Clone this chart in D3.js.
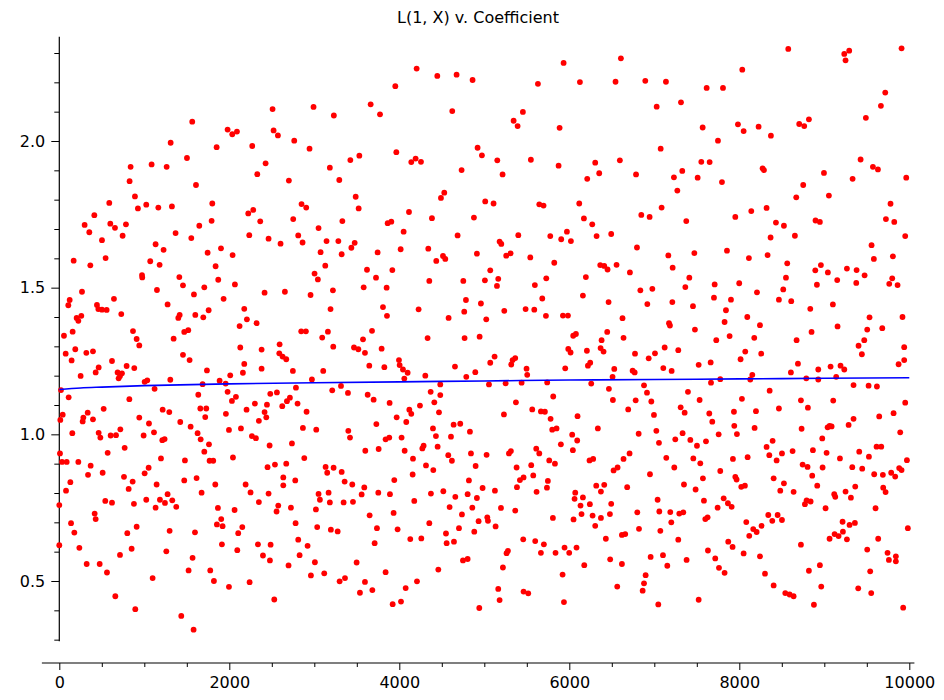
<!DOCTYPE html>
<html>
<head>
<meta charset="utf-8">
<script src="https://cdn.jsdelivr.net/npm/d3@7"></script>
<style>
  body { margin: 0; background: #fff; }
  text { font-family: "DejaVu Sans", sans-serif; }
</style>
</head>
<body>
<div id="chart"></div>
<script>
// L(1, X) value against coefficient
var points = [
  [2509,2.109],[2991,2.116],[3230,2.087],[1564,2.066],[1980,2.039],[2035,2.023],[2090,2.032],[2521,2.036],
  [2572,2.019],[1310,1.994],[1851,1.979],[2270,1.983],[2764,2.001],[2944,1.974],[1502,1.942],[839,1.912],
  [1086,1.920],[1263,1.912],[2427,1.924],[2329,1.887],[3183,1.909],[827,1.863],[1608,1.850],[2701,1.865],
  [4204,2.247],[4447,2.222],[4674,2.226],[4862,2.208],[3953,2.187],[5933,2.266],[6607,2.282],[5631,2.195],
  [6125,2.201],[6544,2.202],[3663,2.125],[3773,2.091],[4623,2.102],[5454,2.099],[5345,2.069],[5392,2.051],
  [5886,2.045],[4921,1.977],[4972,1.951],[3424,1.935],[3530,1.950],[3965,1.962],[4141,1.928],[4192,1.940],
  [4255,1.929],[5153,1.934],[4733,1.901],[5215,1.886],[5548,1.936],[5874,1.916],[6305,1.926],[6211,1.871],
  [6352,1.890],[6595,1.934],[3294,1.867],
  [8576,2.314],[9235,2.297],[9293,2.308],[9250,2.275],[9909,2.316],[8035,2.243],[6894,2.205],[7137,2.202],
  [7616,2.181],[7808,2.181],[7028,2.117],[7314,2.132],[9717,2.165],[9666,2.120],[9489,2.079],[7569,2.046],
  [7984,2.057],[8051,2.034],[8227,2.049],[8372,2.018],[7749,2.001],[8705,2.058],[8764,2.051],[8819,2.074],
  [7075,1.974],[7553,1.929],[7651,1.928],[9427,1.937],[9572,1.912],[9631,1.903],[6785,1.886],[7231,1.876],
  [7329,1.898],[7510,1.875],[7796,1.860],[8274,1.907],[8290,1.901],[8996,1.891],[9333,1.871],[9964,1.875],
  [8752,1.850],
  [588,1.789],[890,1.811],[925,1.770],[1023,1.783],[1165,1.773],[1325,1.777],[1800,1.787],[412,1.747],
  [298,1.714],[353,1.689],[600,1.718],[655,1.704],[784,1.716],[745,1.677],[502,1.662],[1368,1.686],
  [1553,1.669],[1647,1.711],[1792,1.728],[2223,1.753],[2282,1.765],[2364,1.726],[2235,1.679],[2462,1.667],
  [2603,1.650],[2752,1.734],[2850,1.785],[2905,1.773],[2811,1.678],[2862,1.654],[3050,1.703],[3144,1.659],
  [3074,1.621],[3129,1.575],[3003,1.548],[3042,1.528],[3219,1.491],[2956,1.475],[3191,1.427],[2846,1.351],
  [2901,1.351],[3160,1.350],[3093,1.330],[169,1.592],[365,1.576],[545,1.601],[1133,1.648],[1227,1.629],
  [1070,1.590],[1180,1.578],[973,1.543],[976,1.535],[1149,1.492],[1412,1.536],[1455,1.508],[1745,1.619],
  [1902,1.634],[1839,1.573],[2039,1.611],[1870,1.527],[2066,1.511],[1706,1.501],[1584,1.477],[1933,1.462],
  [2415,1.483],[2654,1.486],[267,1.486],[122,1.458],[106,1.440],[643,1.462],[443,1.441],[459,1.427],
  [502,1.425],[557,1.424],[729,1.410],[204,1.397],[259,1.404],[224,1.387],[1274,1.443],[1416,1.407],
  [1400,1.397],[1600,1.407],[1694,1.399],[1757,1.423],[2176,1.428],[2207,1.392],[2321,1.379],[2121,1.369],
  [55,1.336],[157,1.350],[867,1.352],[910,1.325],[1345,1.326],[1470,1.349],[1517,1.355],
  [3487,1.810],[3522,1.770],[4529,1.824],[4490,1.806],[5011,1.794],[5109,1.787],[5647,1.784],[5697,1.780],
  [6117,1.787],[3330,1.727],[3863,1.720],[3906,1.725],[4114,1.758],[4384,1.737],[4878,1.739],[6172,1.736],
  [6270,1.716],[4051,1.691],[3283,1.659],[3475,1.653],[3436,1.636],[3322,1.614],[3745,1.620],[4016,1.631],
  [4341,1.633],[4435,1.591],[4514,1.608],[4541,1.598],[4686,1.678],[4913,1.616],[5180,1.657],[5200,1.649],
  [5258,1.609],[5309,1.617],[5400,1.679],[5541,1.603],[5776,1.676],[5905,1.665],[5972,1.691],[6019,1.659],
  [6321,1.676],[6493,1.683],[5823,1.585],[6364,1.577],[6411,1.574],[6450,1.562],[6556,1.578],[3620,1.561],
  [3918,1.560],[3726,1.534],[3581,1.501],[3851,1.500],[4353,1.523],[4753,1.523],[5007,1.525],[5070,1.559],
  [5164,1.530],[5149,1.506],[5595,1.509],[5729,1.532],[6195,1.536],[6713,1.552],[4784,1.458],[4960,1.446],
  [5682,1.463],[6160,1.473],[6462,1.451],[3808,1.434],[3855,1.404],[4227,1.426],[4580,1.397],[4764,1.418],
  [5023,1.392],[5235,1.421],[5486,1.427],[5588,1.425],[5725,1.404],[5925,1.405],[5984,1.405],[6626,1.396],
  [3679,1.353],[6446,1.349],[6046,1.336],[6078,1.342],[3573,1.324],[4333,1.328],[4768,1.328],[4945,1.333],
  [6380,1.321],[6638,1.329],
  [7271,1.831],[8670,1.808],[9054,1.814],[9779,1.786],[6847,1.748],[6945,1.741],[7086,1.773],[7376,1.727],
  [7953,1.741],[8141,1.761],[8321,1.772],[8431,1.722],[8525,1.711],[8368,1.671],[8654,1.677],[8897,1.729],
  [8948,1.724],[9725,1.734],[9823,1.724],[9952,1.676],[9556,1.645],[9583,1.598],[9807,1.607],[6796,1.637],
  [7165,1.610],[7471,1.618],[7216,1.568],[7855,1.626],[8113,1.601],[8333,1.611],[8564,1.583],[8894,1.559],
  [8960,1.577],[9042,1.552],[9266,1.565],[9380,1.560],[9474,1.542],[9152,1.526],[9376,1.516],[8913,1.510],
  [9799,1.532],[9764,1.513],[9862,1.509],[7412,1.534],[7365,1.502],[6836,1.491],[6977,1.496],[7710,1.511],
  [7999,1.515],[7702,1.466],[7902,1.459],[8208,1.484],[8549,1.534],[8517,1.494],[8466,1.459],[8611,1.454],
  [6918,1.444],[7212,1.451],[7455,1.437],[7843,1.423],[8094,1.400],[8243,1.372],[7827,1.383],[7173,1.379],
  [7184,1.371],[7478,1.357],[7886,1.335],[8176,1.329],[8835,1.428],[9101,1.443],[9532,1.399],[9920,1.400],
  [9156,1.368],[8850,1.349],[9505,1.357],[9682,1.362],[7729,1.321],[8674,1.321],[9470,1.321],
  [941,1.303],[75,1.275],[145,1.252],[188,1.290],[318,1.278],[396,1.283],[251,1.199],[428,1.211],
  [463,1.228],[620,1.250],[686,1.211],[714,1.199],[737,1.208],[698,1.191],[792,1.233],[882,1.226],
  [1004,1.179],[1035,1.184],[1121,1.155],[1306,1.186],[1455,1.271],[1533,1.253],[1737,1.218],[1686,1.171],
  [1886,1.183],[1957,1.173],[2011,1.201],[2129,1.296],[2176,1.240],[2160,1.210],[2380,1.289],[2380,1.224],
  [2592,1.307],[2588,1.276],[2627,1.265],[2670,1.256],[2748,1.216],[3223,1.299],[3105,1.216],[2972,1.187],
  [3211,1.150],[2784,1.159],[20,1.151],[110,1.126],[824,1.120],[1635,1.135],[1980,1.145],[2031,1.114],
  [2078,1.128],[2482,1.138],[2560,1.143],[2678,1.113],[2713,1.125],[2623,1.096],[2803,1.105],[2301,1.105],
  [2443,1.101],[2203,1.084],[2415,1.076],[2435,1.058],[2348,1.046],[2909,1.077],[40,1.067],[12,1.049],
  [283,1.057],[334,1.074],[275,1.044],[396,1.051],[522,1.087],[941,1.057],[1055,1.037],[1216,1.084],
  [1294,1.076],[1423,1.042],[1545,1.026],[1659,1.088],[1729,1.088],[1717,1.059],[1960,1.070],[1996,1.015],
  [2137,1.020],[2866,1.022],[3023,1.016],[153,1.004],[463,1.005],[483,0.989],[604,0.996],[667,0.997],
  [718,1.017],[992,0.996],[1114,1.007],[1212,0.980],[1239,0.984],[1627,1.004],[1663,0.983],[1761,0.966],
  [1706,0.941],[1768,0.910],[1811,0.910],[2266,0.994],[2313,0.987],[2474,0.962],[2737,0.969],[769,0.954],
  [569,0.937],[8,0.935],[32,0.906],[87,0.906],[224,0.906],[369,0.893],[338,0.862],[510,0.869],
  [1051,0.886],[1004,0.867],[1196,0.918],[1478,0.911],[2043,0.921],[2450,0.888],[2537,0.897],[2670,0.900],
  [2882,0.919],[3133,0.889],[3152,0.869],[3227,0.886],[130,0.837],[761,0.855],[863,0.839],[816,0.814],
  [1145,0.829],[1470,0.843],[1615,0.851],[1835,0.829],[2192,0.829],[2635,0.853],[2776,0.843],[2635,0.826],
  [2250,0.802],[2462,0.798],[79,0.808],[1274,0.796],[1674,0.801],[3050,0.797],[3168,0.801],
  [3467,1.296],[3518,1.290],[3596,1.278],[3792,1.292],[3647,1.234],[3824,1.229],[3996,1.253],[4004,1.236],
  [4043,1.221],[4098,1.210],[4059,1.190],[4306,1.200],[4655,1.231],[4788,1.196],[4894,1.212],[5070,1.244],
  [5121,1.265],[5317,1.238],[5333,1.253],[5364,1.260],[5497,1.224],[5505,1.203],[5952,1.225],[5988,1.291],
  [6015,1.279],[6207,1.285],[6368,1.294],[6403,1.282],[6219,1.234],[6246,1.244],[6529,1.223],[6509,1.196],
  [3314,1.165],[3396,1.141],[3628,1.135],[3698,1.118],[3886,1.107],[4369,1.145],[4482,1.170],[4482,1.134],
  [4412,1.109],[4467,1.075],[4243,1.098],[4118,1.084],[4141,1.070],[3969,1.058],[4082,1.042],[3730,1.035],
  [3400,1.012],[3420,0.989],[3839,0.983],[3882,0.989],[4027,0.989],[3757,0.950],[3600,0.944],[4063,0.944],
  [4271,0.952],[4286,0.961],[4396,1.020],[4431,0.994],[4608,0.992],[4639,1.033],[4717,1.036],[4831,1.009],
  [4451,0.958],[4576,0.929],[4619,0.910],[4843,0.935],[5027,0.930],[5055,1.170],[5251,1.174],[5439,1.176],
  [5740,1.177],[5372,1.109],[5231,1.068],[5564,1.085],[5666,1.078],[5713,1.077],[5811,1.129],[5780,1.053],
  [5799,1.016],[5850,1.020],[6097,1.062],[6258,1.173],[6466,1.155],[6513,1.117],[6693,1.085],[6336,1.020],
  [6034,0.999],[6093,0.979],[5901,0.966],[6042,0.946],[5313,0.943],[5290,0.935],[5611,0.951],[5647,0.935],
  [5764,0.911],[5831,0.900],[5552,0.895],[5380,0.887],[5576,0.860],[5462,0.853],[5419,0.844],[5748,0.841],
  [5737,0.818],[5384,0.820],[6238,0.911],[6281,0.916],[6638,0.916],[6709,0.935],[6568,0.887],[6521,0.877],
  [6317,0.825],[6411,0.828],[6681,0.820],[6372,0.805],[6070,0.801],[5615,0.804],[5125,0.808],[4980,0.817],
  [4819,0.843],[4898,0.892],[4161,0.917],[4314,0.894],[4400,0.878],[4157,0.863],[3941,0.844],[3322,0.872],
  [3357,0.839],[3447,0.829],[3588,0.819],[3753,0.801],[3890,0.796],[4372,0.798],[4518,0.806],[4804,0.796],
  [3557,0.795],
  [6773,1.275],[6934,1.259],[7008,1.276],[7122,1.296],[7282,1.287],[7106,1.226],[7204,1.216],[6745,1.217],
  [6769,1.211],[7522,1.237],[7663,1.245],[7667,1.176],[7776,1.188],[8015,1.256],[8070,1.282],[8258,1.275],
  [8153,1.203],[8129,1.187],[8607,1.211],[8690,1.241],[8788,1.191],[8929,1.221],[8929,1.187],[9074,1.231],
  [9191,1.234],[9235,1.221],[9140,1.196],[9344,1.168],[9521,1.166],[9619,1.163],[9403,1.302],[9442,1.273],
  [9940,1.297],[9940,1.253],[9874,1.239],[6879,1.167],[6914,1.142],[6781,1.116],[6965,1.112],[7396,1.145],
  [7533,1.117],[7310,1.092],[7357,1.074],[6996,1.066],[7647,1.071],[7682,1.043],[7937,1.077],[8031,1.121],
  [8196,1.079],[8357,1.149],[8466,1.088],[8725,1.116],[8807,1.091],[9105,1.115],[9952,1.108],[9815,1.072],
  [9646,1.061],[9344,1.053],[9286,1.032],[9062,1.029],[9039,1.024],[9086,1.027],[8733,1.019],[8180,1.022],
  [7941,1.029],[7972,1.001],[7757,1.000],[7333,1.004],[7247,0.983],[7424,0.981],[7502,0.961],[7608,0.976],
  [7024,1.012],[7055,0.971],[6816,1.002],[9893,1.007],[8976,0.986],[8392,0.978],[8321,0.957],[8353,0.929],
  [8439,0.911],[8502,0.935],[8627,0.943],[8866,0.946],[9027,0.937],[9184,0.918],[9411,0.941],[9525,0.924],
  [9615,0.958],[9670,0.958],[9972,0.912],[7141,0.920],[7459,0.918],[7541,0.901],[7925,0.916],[8098,0.922],
  [7235,0.887],[7776,0.875],[7572,0.850],[6949,0.864],[7349,0.829],[7486,0.812],[7953,0.855],[7968,0.846],
  [8023,0.821],[8066,0.825],[8404,0.850],[8525,0.833],[8482,0.808],[8639,0.804],[8745,0.897],[8803,0.889],
  [8980,0.887],[8858,0.859],[8917,0.825],[9329,0.888],[9446,0.883],[9587,0.864],[9689,0.862],[9787,0.869],
  [9834,0.856],[9881,0.885],[9909,0.878],[9364,0.822],[9250,0.805],[9693,0.818],[9721,0.803],[9117,0.796],
  [0,0.759],[0,0.622],[138,0.697],[177,0.665],[236,0.613],[322,0.558],[475,0.558],[561,0.529],
  [659,0.448],[416,0.730],[428,0.711],[541,0.773],[620,0.767],[800,0.663],[878,0.763],[910,0.685],
  [851,0.610],[714,0.589],[894,0.404],[1023,0.777],[1133,0.750],[1184,0.777],[1243,0.766],[1329,0.775],
  [1376,0.753],[1298,0.671],[1259,0.601],[1098,0.510],[1435,0.381],[1568,0.579],[1596,0.666],[1521,0.536],
  [1580,0.334],[1776,0.536],[1819,0.500],[1866,0.749],[1905,0.711],[1854,0.693],[1921,0.687],[1913,0.625],
  [1996,0.480],[2062,0.742],[2153,0.684],[2105,0.663],[2094,0.605],[2239,0.496],[2348,0.769],[2337,0.625],
  [2396,0.587],[2486,0.624],[2478,0.570],[2529,0.437],[2556,0.737],[2576,0.757],[2725,0.750],[2780,0.697],
  [2811,0.641],[2827,0.588],[2697,0.553],[2921,0.620],[3007,0.564],[2960,0.519],[3117,0.526],[3019,0.744],
  [3034,0.684],[3066,0.777],[3183,0.768],[3195,0.675],
  [3345,0.768],[3455,0.770],[3275,0.669],[3651,0.724],[3737,0.680],[3710,0.629],[3933,0.732],[3980,0.676],
  [4176,0.773],[4129,0.643],[4259,0.645],[4353,0.697],[4659,0.787],[4592,0.752],[4737,0.727],[4859,0.750],
  [4913,0.783],[4702,0.680],[4549,0.662],[4557,0.629],[4643,0.634],[4882,0.668],[4933,0.704],[5035,0.717],
  [5043,0.705],[5133,0.686],[5196,0.749],[5364,0.740],[3498,0.563],[3298,0.499],[3361,0.510],[3596,0.497],
  [3537,0.460],[3683,0.469],[3839,0.530],[4075,0.476],[4208,0.499],[3922,0.421],[4020,0.430],[4459,0.539],
  [4749,0.570],[4804,0.575],[4941,0.408],[5164,0.473],[5180,0.435],[5219,0.546],[5262,0.595],[5278,0.603],
  [5458,0.642],[5462,0.464],[5517,0.458],[5599,0.636],[5701,0.625],[5666,0.596],[5807,0.715],[5838,0.596],
  [5944,0.614],[5999,0.596],[6085,0.614],[5921,0.522],[5937,0.428],[6050,0.710],[6062,0.780],[6132,0.757],
  [6144,0.728],[6160,0.785],[6242,0.762],[6274,0.723],[6305,0.688],[6372,0.715],[6478,0.728],[6493,0.763],
  [6430,0.644],[6481,0.574],[6619,0.657],[6658,0.660],[6619,0.558],[6564,0.481],[6176,0.554],
  [6800,0.734],[6820,0.678],[7039,0.777],[7059,0.737],[7071,0.671],[7188,0.735],[7200,0.700],[7294,0.730],
  [7341,0.734],[7282,0.641],[6957,0.582],[7102,0.588],[7153,0.552],[7380,0.572],[6898,0.520],[6879,0.492],
  [6863,0.467],[7047,0.420],[7522,0.436],[7584,0.774],[7600,0.711],[7627,0.717],[7745,0.750],[7816,0.782],
  [7866,0.765],[7910,0.753],[7631,0.604],[7717,0.577],[7761,0.545],[7827,0.528],[7870,0.634],[7921,0.616],
  [8051,0.594],[8082,0.701],[8117,0.654],[8164,0.677],[8204,0.667],[8262,0.688],[8243,0.584],[8302,0.525],
  [8341,0.725],[8388,0.705],[8451,0.725],[8502,0.708],[8404,0.485],[8541,0.459],[8592,0.454],[8639,0.448],
  [8725,0.624],[8772,0.762],[8792,0.775],[8839,0.771],[8819,0.535],[8878,0.419],[8948,0.554],[8964,0.481],
  [9015,0.748],[9129,0.787],[9313,0.784],[9215,0.702],[9297,0.691],[9360,0.698],[9062,0.644],[9121,0.660],
  [9168,0.653],[9219,0.668],[9266,0.642],[9399,0.475],[9505,0.607],[9540,0.533],[9552,0.459],[9603,0.748],
  [9634,0.644],[9744,0.596],[9760,0.572],[9842,0.584],[9842,0.567],[9928,0.409],[9983,0.680]
];

// running curve (blue)
var lineCoefficients = [0, 250, 500, 1000, 2000, 3000, 4000, 5000, 6000, 7000, 8000, 9000, 10000];
var lineValues = [1.153, 1.158, 1.161, 1.166, 1.172, 1.176, 1.179, 1.182, 1.185, 1.187, 1.189, 1.191, 1.193];

var xMajorTicks = [0, 2000, 4000, 6000, 8000, 10000];
var xMinorTicks = [500, 1000, 1500, 2500, 3000, 3500, 4500, 5000, 5500, 6500, 7000, 7500, 8500, 9000, 9500];
var yMajorTicks = [0.5, 1.0, 1.5, 2.0];
var yMinorTicks = [0.3, 0.4, 0.6, 0.7, 0.8, 0.9, 1.1, 1.2, 1.3, 1.4, 1.6, 1.7, 1.8, 1.9, 2.1, 2.2, 2.3];

var chartTitle = "L(1, X) v. Coefficient";

const width = 944, height = 700;

const svg = d3.select("#chart")
    .append("svg")
    .attr("width", width)
    .attr("height", height)
    .style("background", "#fff");

const x = d3.scaleLinear().domain([0, 10000]).range([59.3, 909.3]);
const y = d3.scaleLinear().domain([0.5, 2.0]).range([581, 141]);

// spans of the drawn axis lines (data units)
const xSpan = [-205, 10060];
const ySpan = [0.295, 2.355];
const xAxisY = 663;
const yAxisX = x(0);

//title
svg.append("text")
    .attr("x", 478)
    .attr("y", 23)
    .attr("text-anchor", "middle")
    .style("font-size", "16px")
    .style("fill", "#000")
    .text(chartTitle);

// x axis
var xAxisG = svg.append("g")
    .attr("transform", "translate(0," + xAxisY + ")");

xAxisG.append("g")
    .call(d3.axisBottom(x).tickValues(xMinorTicks).tickSize(4).tickFormat(""))
    .call(g => g.select(".domain").remove());

xAxisG.append("g")
    .call(d3.axisBottom(x).tickValues(xMajorTicks).tickSize(7).tickPadding(7).tickFormat(d3.format("d")))
    .call(g => g.select(".domain").remove())
    .selectAll("text")
    .style("font-size", "16px")
    .style("font-family", "DejaVu Sans");

xAxisG.append("line")
    .attr("x1", x(xSpan[0]))
    .attr("x2", x(xSpan[1]))
    .attr("y1", 0)
    .attr("y2", 0)
    .style("stroke", "#000")
    .style("stroke-width", 1.2);

// y axis
var yAxisG = svg.append("g")
    .attr("transform", "translate(" + yAxisX + ",0)");

yAxisG.append("g")
    .call(d3.axisLeft(y).tickValues(yMinorTicks).tickSize(5).tickFormat(""))
    .call(g => g.select(".domain").remove());

yAxisG.append("g")
    .call(d3.axisLeft(y).tickValues(yMajorTicks).tickSize(8).tickPadding(6).tickFormat(d3.format(".1f")))
    .call(g => g.select(".domain").remove())
    .selectAll("text")
    .style("font-size", "16px")
    .style("font-family", "DejaVu Sans");

yAxisG.append("line")
    .attr("x1", 0)
    .attr("x2", 0)
    .attr("y1", y(ySpan[0]))
    .attr("y2", y(ySpan[1]))
    .style("stroke", "#000")
    .style("stroke-width", 1.2);

svg.selectAll(".tick line").style("stroke", "#000");

// points
svg.append("g")
    .attr("class", "points")
    .selectAll("circle")
    .data(points)
    .enter()
    .append("circle")
    .attr("cx", d => x(d[0]))
    .attr("cy", d => y(d[1]))
    .attr("r", 2.9)
    .style("fill", "#ff0000");

// curve
var line = d3.line()
    .x(d => x(d[0]))
    .y(d => y(d[1]))
    .curve(d3.curveMonotoneX);

svg.append("path")
    .datum(d3.zip(lineCoefficients, lineValues))
    .attr("d", line)
    .style("fill", "none")
    .style("stroke", "#0000ff")
    .style("stroke-width", 1.6);
</script>
</body>
</html>
